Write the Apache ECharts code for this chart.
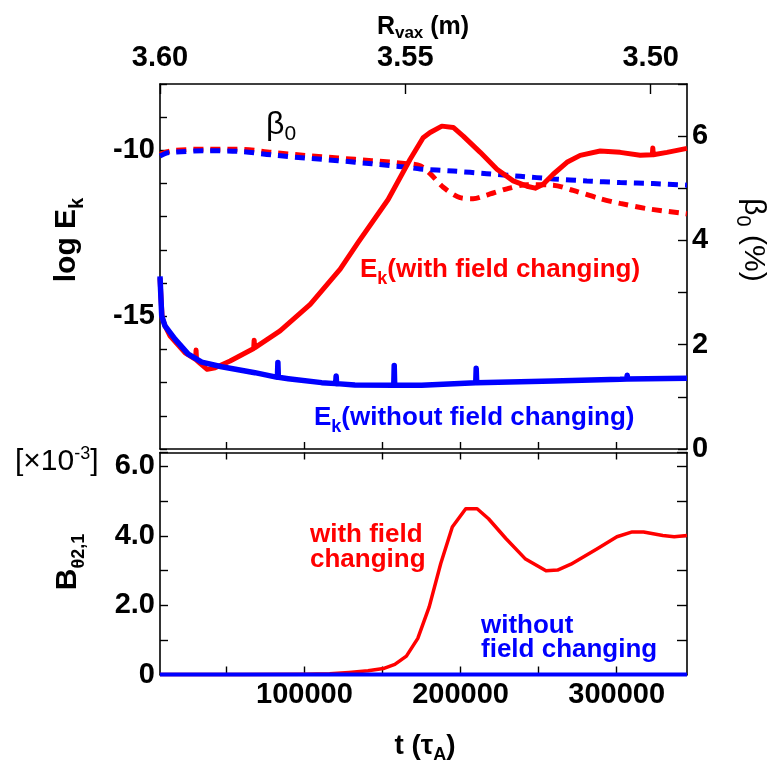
<!DOCTYPE html>
<html>
<head>
<meta charset="utf-8">
<title>Ek / beta0 / B_theta</title>
<script src="https://cdn.jsdelivr.net/npm/echarts@6.0.0/dist/echarts.min.js"></script>
<style>
  html, body { margin: 0; padding: 0; background: #fff; }
  #chart { width: 773px; height: 767px; }
</style>
</head>
<body>
<div id="chart"></div>
<script>
// values, t in tau_A
const tRange = [7500, 345000];
const rRange = [3.4926, 3.6];
const tTicks = [50000, 100000, 150000, 200000, 250000, 300000];
const tLabels = [100000, 200000, 300000];
const rTicks = [3.5, 3.55, 3.6];

// log Ek, with field changing (red solid)
const ekWith = [
  [7500, -13.85], [8200, -14.5], [8900, -15.05], [10800, -15.3], [14000, -15.6],
  [23600, -16.1], [30300, -16.3], [30600, -16.02], [30900, -16.32], [33200, -16.42],
  [37700, -16.6], [42800, -16.55], [52400, -16.35], [67500, -15.97], [67800, -15.72],
  [68100, -15.95], [84400, -15.44], [103700, -14.64], [122900, -13.58], [134400, -12.77],
  [153600, -11.48], [167700, -10.27], [176000, -9.62], [180500, -9.46], [188000, -9.27],
  [195300, -9.31], [201700, -9.57], [212600, -10.06], [223300, -10.57], [233700, -10.92],
  [242500, -11.08], [247800, -11.14], [252900, -11.02], [259300, -10.72], [268100, -10.36],
  [276600, -10.15], [289400, -10.02], [302200, -10.06], [315000, -10.15], [322800, -10.13],
  [323100, -9.93], [323400, -10.13], [332200, -10.06], [345000, -9.94]
];

// log Ek, without field changing (blue solid)
const ekWithout = [
  [7500, -13.8], [8600, -14.99], [10700, -15.29], [17100, -15.69], [25600, -16.14],
  [34200, -16.38], [47000, -16.52], [68300, -16.7], [82700, -16.84], [83000, -16.39],
  [83300, -16.84], [89600, -16.88], [111000, -17.0], [120000, -17.03], [120300, -16.8],
  [120600, -17.03], [132300, -17.07], [157200, -17.08], [157500, -16.48], [157800, -17.08],
  [175000, -17.08], [209700, -17.0], [210000, -16.57], [210300, -17.0], [259300, -16.95],
  [302200, -16.9], [306500, -16.89], [306700, -16.78], [306900, -16.89], [345000, -16.87]
];

// beta0 (%), with field changing (red dashed)
const betaWith = [
  [7500, 5.65], [15000, 5.72], [36400, 5.75], [57500, 5.75], [79100, 5.69],
  [100400, 5.63], [121600, 5.58], [143200, 5.53], [166400, 5.47], [174100, 5.43],
  [180500, 5.28], [188900, 5.02], [199700, 4.82], [208000, 4.8], [216800, 4.87],
  [229700, 4.99], [242500, 5.07], [259300, 5.06], [272100, 4.96], [289400, 4.8],
  [302200, 4.71], [319300, 4.61], [345000, 4.51]
];

// beta0 (%), without field changing (blue dashed)
const betaWithout = [
  [7500, 5.62], [12000, 5.68], [15000, 5.69], [36400, 5.72], [57500, 5.71],
  [79100, 5.64], [100400, 5.58], [121600, 5.53], [143200, 5.47], [166400, 5.4],
  [174100, 5.37], [195300, 5.33], [216800, 5.28], [238200, 5.23], [259300, 5.18],
  [280900, 5.14], [302200, 5.11], [323400, 5.09], [345000, 5.06]
];

// B_theta 2,1 [x1e-3]
const bWith = [
  [7500, 0], [60000, 0], [100000, 0.01], [116200, 0.02], [128500, 0.06],
  [140700, 0.11], [150500, 0.17], [157900, 0.29], [165300, 0.53], [172600, 1.04],
  [179900, 1.95], [187300, 3.2], [194700, 4.25], [203300, 4.78], [210600, 4.78],
  [217900, 4.49], [229000, 3.92], [241300, 3.34], [254700, 2.99], [262100, 3.01],
  [270700, 3.18], [287800, 3.63], [300100, 3.97], [309900, 4.11], [317200, 4.11],
  [329500, 4.01], [336800, 3.97], [345000, 4.01]
];
const bWithout = [[7500, 0], [345000, 0]];

const FONT = '"Liberation Sans", Arial, Helvetica, sans-serif';
const RED = '#ff0000';
const BLUE = '#0000ff';

const frame = { show: true, onZero: false, lineStyle: { color: '#000', width: 1.6 } };
const tickStyle = { color: '#000', width: 1.4 };
const tickLabel = { color: '#000', fontSize: 29, fontWeight: 'bold', fontFamily: FONT };

const chart = echarts.init(document.getElementById('chart'));

chart.setOption({
  animation: false,
  backgroundColor: '#fff',
  grid: [
    { left: 160, right: 86, top: 84, height: 365 },
    { left: 160, right: 86, top: 452.5, height: 222 }
  ],
  xAxis: [
    {
      gridIndex: 0, type: 'value', position: 'bottom',
      min: tRange[0], max: tRange[1],
      axisLine: frame,
      axisTick: { inside: true, length: 7, customValues: tTicks, lineStyle: tickStyle },
      axisLabel: { show: false },
      splitLine: { show: false }
    },
    {
      gridIndex: 0, type: 'value', position: 'top', inverse: true,
      min: rRange[0], max: rRange[1],
      axisLine: frame,
      axisTick: { inside: true, length: 10, customValues: rTicks, lineStyle: tickStyle },
      axisLabel: Object.assign({ margin: 12, customValues: rTicks, formatter: (v) => v.toFixed(2) }, tickLabel),
      splitLine: { show: false }
    },
    {
      gridIndex: 1, type: 'value', position: 'bottom',
      min: tRange[0], max: tRange[1],
      axisLine: frame,
      axisTick: { inside: true, length: 8, customValues: tTicks, lineStyle: tickStyle },
      axisLabel: Object.assign({ margin: 6, customValues: tLabels, formatter: (v) => String(v) }, tickLabel),
      splitLine: { show: false }
    },
    {
      gridIndex: 1, type: 'value', position: 'top',
      min: tRange[0], max: tRange[1],
      axisLine: frame,
      axisTick: { inside: true, length: 7, customValues: tTicks, lineStyle: tickStyle },
      axisLabel: { show: false },
      splitLine: { show: false }
    }
  ],
  yAxis: [
    {
      gridIndex: 0, type: 'value', position: 'left',
      min: -19, max: -8, interval: 1,
      axisLine: frame,
      axisTick: { inside: true, length: 7, lineStyle: tickStyle },
      axisLabel: Object.assign({ margin: 5, formatter: (v) => (v === -10 || v === -15 ? String(v) : '') }, tickLabel),
      splitLine: { show: false }
    },
    {
      gridIndex: 0, type: 'value', position: 'right',
      min: 0, max: 7, interval: 1,
      axisLine: frame,
      axisTick: { inside: true, length: 9, lineStyle: tickStyle },
      axisLabel: Object.assign({ margin: 5, formatter: (v) => (v % 2 === 0 && v < 7 ? String(v) : '') }, tickLabel),
      splitLine: { show: false }
    },
    {
      gridIndex: 1, type: 'value', position: 'left',
      min: 0, max: 6.4, interval: 1,
      axisLine: frame,
      axisTick: { inside: true, length: 8, lineStyle: tickStyle },
      axisLabel: Object.assign({
        margin: 5,
        formatter: (v) => (v === 0 ? '0' : (v % 2 === 0 && v <= 6 ? v.toFixed(1) : ''))
      }, tickLabel),
      splitLine: { show: false }
    },
    {
      gridIndex: 1, type: 'value', position: 'right',
      min: 0, max: 6.4, interval: 1,
      axisLine: frame,
      axisTick: { inside: true, length: 10, lineStyle: tickStyle },
      axisLabel: { show: false },
      splitLine: { show: false }
    }
  ],
  series: [
    {
      name: 'beta0 with', type: 'line', xAxisIndex: 0, yAxisIndex: 1,
      data: betaWith, showSymbol: false, symbol: 'none', smooth: 0.3,
      lineStyle: { color: RED, width: 5, type: [10, 7] }
    },
    {
      name: 'beta0 without', type: 'line', xAxisIndex: 0, yAxisIndex: 1,
      data: betaWithout, showSymbol: false, symbol: 'none', smooth: 0.3,
      lineStyle: { color: BLUE, width: 5, type: [10, 7] }
    },
    {
      name: 'Ek with', type: 'line', xAxisIndex: 0, yAxisIndex: 0,
      data: ekWith, showSymbol: false, symbol: 'none',
      lineStyle: { color: RED, width: 5, join: 'round' }
    },
    {
      name: 'Ek without', type: 'line', xAxisIndex: 0, yAxisIndex: 0,
      data: ekWithout, showSymbol: false, symbol: 'none',
      lineStyle: { color: BLUE, width: 5.5, join: 'round' }
    },
    {
      name: 'B with', type: 'line', xAxisIndex: 2, yAxisIndex: 2,
      data: bWith, showSymbol: false, symbol: 'none', clip: false,
      lineStyle: { color: RED, width: 3.5, join: 'round' }
    },
    {
      name: 'B without', type: 'line', xAxisIndex: 2, yAxisIndex: 2,
      data: bWithout, showSymbol: false, symbol: 'none', clip: false,
      lineStyle: { color: BLUE, width: 4 }
    }
  ],
  graphic: {
    elements: [
      // axis titles
      {
        type: 'text', x: 423, y: 27,
        style: {
          text: '{m|R}{s|vax}{m| (m)}', align: 'center', verticalAlign: 'middle',
          rich: {
            m: { font: 'bold 25px ' + FONT, fill: '#000', lineHeight: 30 },
            s: { font: 'bold 17px ' + FONT, fill: '#000', lineHeight: 17, verticalAlign: 'bottom' }
          }
        }
      },
      {
        type: 'text', x: 425, y: 746,
        style: {
          text: '{m|t (τ}{s|A}{m|)}', align: 'center', verticalAlign: 'middle',
          rich: {
            m: { font: 'bold 28px ' + FONT, fill: '#000', lineHeight: 36 },
            s: { font: 'bold 18px ' + FONT, fill: '#000', lineHeight: 18, verticalAlign: 'bottom' }
          }
        }
      },
      {
        type: 'text', x: 67, y: 240, rotation: Math.PI / 2,
        style: {
          text: '{m|log E}{s|k}', align: 'center', verticalAlign: 'middle',
          rich: {
            m: { font: 'bold 30px ' + FONT, fill: '#000', lineHeight: 40 },
            s: { font: 'bold 20px ' + FONT, fill: '#000', lineHeight: 20, verticalAlign: 'bottom' }
          }
        }
      },
      {
        type: 'text', x: 753, y: 240, rotation: -Math.PI / 2,
        style: {
          text: '{m|β}{s|0}{m| (%)}', align: 'center', verticalAlign: 'middle',
          rich: {
            m: { font: '30px ' + FONT, fill: '#000', lineHeight: 40 },
            s: { font: '20px ' + FONT, fill: '#000', lineHeight: 20, verticalAlign: 'bottom' }
          }
        }
      },
      {
        type: 'text', x: 68, y: 562, rotation: Math.PI / 2,
        style: {
          text: '{m|B}{s|θ2,1}', align: 'center', verticalAlign: 'middle',
          rich: {
            m: { font: 'bold 30px ' + FONT, fill: '#000', lineHeight: 40 },
            s: { font: 'bold 18px ' + FONT, fill: '#000', lineHeight: 18, verticalAlign: 'bottom' }
          }
        }
      },
      {
        type: 'text', x: 15, y: 462,
        style: {
          text: '{m|[×10}{p|-3}{m|]}', align: 'left', verticalAlign: 'middle',
          rich: {
            m: { font: '30px ' + FONT, fill: '#000', lineHeight: 34 },
            p: { font: '18px ' + FONT, fill: '#000', lineHeight: 18, verticalAlign: 'top' }
          }
        }
      },
      // annotations
      {
        type: 'text', x: 266, y: 125,
        style: {
          text: '{m|β}{s|0}', align: 'left', verticalAlign: 'middle',
          rich: {
            m: { font: '32px ' + FONT, fill: '#000', lineHeight: 40 },
            s: { font: '21px ' + FONT, fill: '#000', lineHeight: 21, verticalAlign: 'bottom' }
          }
        }
      },
      {
        type: 'text', x: 360, y: 270,
        style: {
          text: '{m|E}{s|k}{m|(with field changing)}', align: 'left', verticalAlign: 'middle',
          rich: {
            m: { font: 'bold 26px ' + FONT, fill: RED, lineHeight: 36 },
            s: { font: 'bold 18px ' + FONT, fill: RED, lineHeight: 18, verticalAlign: 'bottom' }
          }
        }
      },
      {
        type: 'text', x: 314, y: 418,
        style: {
          text: '{m|E}{s|k}{m|(without field changing)}', align: 'left', verticalAlign: 'middle',
          rich: {
            m: { font: 'bold 26px ' + FONT, fill: BLUE, lineHeight: 36 },
            s: { font: 'bold 18px ' + FONT, fill: BLUE, lineHeight: 18, verticalAlign: 'bottom' }
          }
        }
      },
      {
        type: 'text', x: 310, y: 522,
        style: {
          text: 'with field\nchanging', align: 'left', verticalAlign: 'top',
          font: 'bold 26px ' + FONT, fill: RED, lineHeight: 25
        }
      },
      {
        type: 'text', x: 481, y: 614,
        style: {
          text: 'without\nfield changing', align: 'left', verticalAlign: 'top',
          font: 'bold 26px ' + FONT, fill: BLUE, lineHeight: 24
        }
      }
    ]
  }
});
</script>
</body>
</html>
